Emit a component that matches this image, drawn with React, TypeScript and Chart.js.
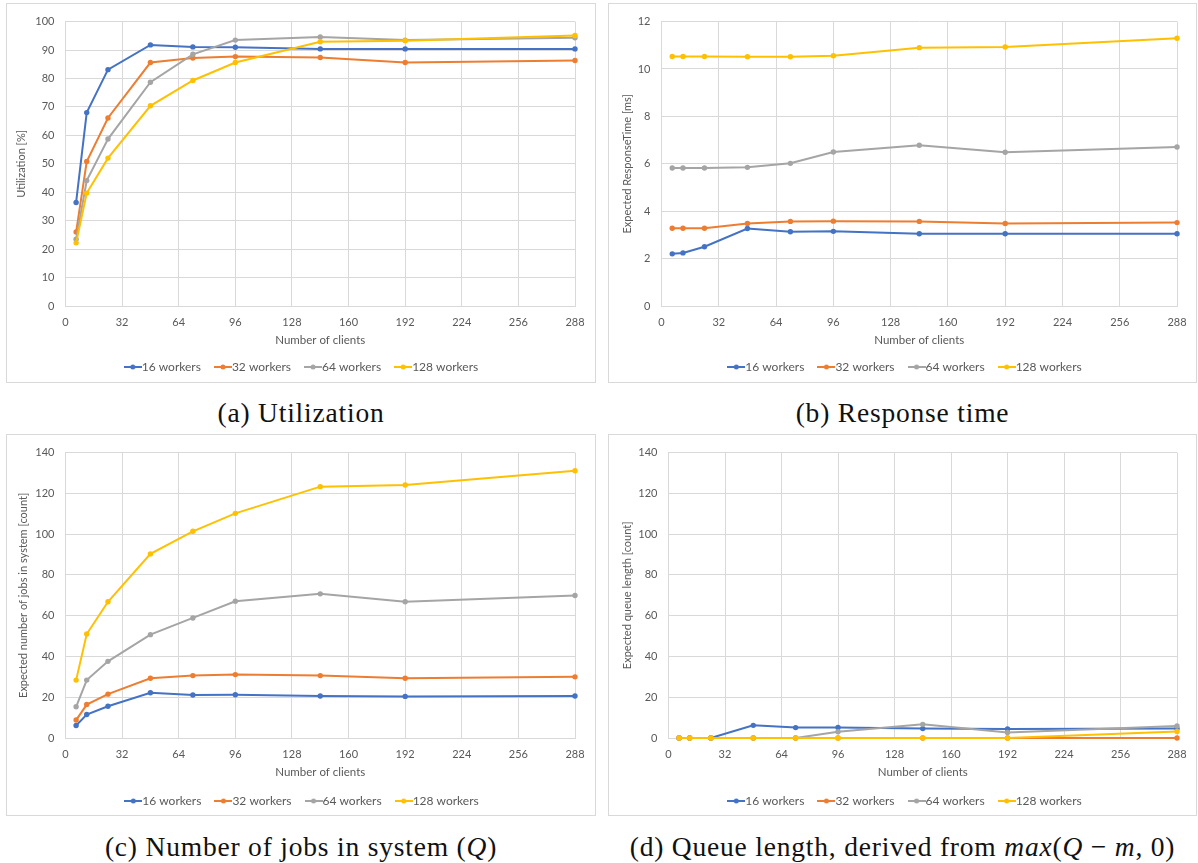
import React, { useEffect, useRef } from "react";
import { Chart, registerables } from "chart.js";

Chart.register(...registerables);

// ---------- data ----------
const clients = [6, 12, 24, 48, 72, 96, 144, 192, 288];
const seriesLabels = ["16 workers", "32 workers", "64 workers", "128 workers"];
const seriesColors = ["#4472C4", "#ED7D31", "#A5A5A5", "#FFC000"];

const utilization16 = [36.4, 68.0, 83.1, 91.8, 91.1, 91.0, 90.4, 90.4, 90.4];
const utilization32 = [26.0, 50.8, 66.1, 85.6, 87.2, 87.7, 87.4, 85.6, 86.3];
const utilization64 = [23.5, 44.1, 58.7, 78.7, 88.5, 93.5, 94.6, 93.5, 94.3];
const utilization128 = [22.2, 39.7, 52.0, 70.4, 79.3, 85.6, 92.9, 93.3, 95.1];

const response16 = [2.2, 2.24, 2.5, 3.27, 3.13, 3.15, 3.05, 3.05, 3.05];
const response32 = [3.28, 3.28, 3.28, 3.48, 3.57, 3.58, 3.57, 3.48, 3.52];
const response64 = [5.82, 5.82, 5.82, 5.85, 6.02, 6.5, 6.78, 6.49, 6.71];
const response128 = [10.53, 10.53, 10.53, 10.52, 10.52, 10.56, 10.9, 10.93, 11.3];

const jobs16 = [6.1, 11.5, 15.6, 22.2, 21.1, 21.2, 20.6, 20.4, 20.6];
const jobs32 = [8.8, 16.4, 21.5, 29.3, 30.6, 31.1, 30.6, 29.3, 30.0];
const jobs64 = [15.3, 28.4, 37.6, 50.7, 58.9, 67.1, 70.7, 66.8, 69.9];
const jobs128 = [28.4, 51.0, 66.8, 90.3, 101.4, 110.2, 123.3, 124.1, 131.1];

const queue16 = [0, 0, 0, 6.2, 5.1, 5.2, 4.6, 4.4, 4.6];
const queue32 = [0, 0, 0, 0, 0, 0, 0, 0, 0];
const queue64 = [0, 0, 0, 0, 0, 3.1, 6.7, 2.7, 5.9];
const queue128 = [0, 0, 0, 0, 0, 0, 0, 0, 3.2];

const xMin = 0;
const xMax = 288;
const xStep = 32;

// ---------- styling ----------
const FONT = "Lato";
const TEXT = "#595959";
const GRID = "#D9D9D9";
const TICK_SIZE = 11;
const XTITLE_SIZE = 11.5;
const YTITLE_SIZE = 11;
const LEGEND_SIZE = 12;
const LEGEND_PAD = 19;
const LEGEND_BOX = 6;

type PanelSpec = {
  left: number;
  top: number;
  width: number;
  height: number;
  plotLeft: number;
  plotRight: number;
  plotTop: number;
  plotBottom: number;
  tickCenter: number;
  xTitleCenter: number;
  legendCenter: number;
  legendX: number;
  yTitleCenter: number;
  yMax: number;
  yStep: number;
  yTitle: string;
  series: number[][];
  caption: React.ReactNode;
  captionCenter: number;
};

function legendMarker(color: string): HTMLCanvasElement {
  const c = document.createElement("canvas");
  c.width = 18;
  c.height = 8;
  const ctx = c.getContext("2d")!;
  ctx.strokeStyle = color;
  ctx.lineWidth = 2;
  ctx.beginPath();
  ctx.moveTo(0, 4);
  ctx.lineTo(18, 4);
  ctx.stroke();
  ctx.fillStyle = color;
  ctx.beginPath();
  ctx.arc(9, 4, 2.5, 0, Math.PI * 2);
  ctx.fill();
  return c;
}

function LinePanel({ spec }: { spec: PanelSpec }) {
  const ref = useRef<HTMLCanvasElement>(null);
  const innerW = spec.width - 2;
  const innerH = spec.height - 2;

  useEffect(() => {
    if (!ref.current) return;
    const legendH = LEGEND_SIZE + LEGEND_PAD + 10;
    const padBottom = LEGEND_SIZE / 2 + 10 - (innerH - spec.legendCenter) - 3;
    const legendTop = innerH - padBottom - legendH;
    const xH = legendTop - spec.plotBottom;
    const xTitlePadBottom = legendTop - spec.xTitleCenter - (XTITLE_SIZE * 1.2) / 2;
    const tickPad = spec.tickCenter - spec.plotBottom - (TICK_SIZE * 1.2) / 2;
    const yTitlePadTop = spec.yTitleCenter - (YTITLE_SIZE * 1.2) / 2;
    const markers = seriesColors.map(legendMarker);
    const legendShift =
      spec.legendX - (spec.left + 1) + (9 - LEGEND_BOX / 2) / 2 - spec.plotRight / 2;

    const chart = new Chart(ref.current, {
      type: "line",
      data: {
        datasets: spec.series.map((vals, i) => ({
          label: seriesLabels[i],
          data: clients.map((x, j) => ({ x, y: vals[j] })),
          borderColor: seriesColors[i],
          backgroundColor: seriesColors[i],
          borderWidth: 2,
          pointRadius: 2.7,
          pointBorderWidth: 0,
          pointHoverRadius: 2.7,
          tension: 0,
          fill: false,
          order: spec.series.length - i,
          clip: false as any,
        })),
      },
      plugins: [
        {
          id: "legendShift",
          afterLayout(ch: any) {
            if (ch.legend) {
              ch.legend.left += legendShift;
              ch.legend.right += legendShift;
            }
          },
        },
      ],
      options: {
        animation: false,
        responsive: false,
        events: [],
        layout: {
          padding: {
            left: 0,
            top: spec.plotTop,
            right: innerW - spec.plotRight,
            bottom: padBottom,
          },
        },
        plugins: {
          tooltip: { enabled: false },
          legend: {
            position: "bottom",
            labels: {
              usePointStyle: true,
              pointStyleWidth: LEGEND_BOX,
              padding: LEGEND_PAD,
              color: TEXT,
              font: { family: FONT, size: LEGEND_SIZE },
              generateLabels: (ch: any) =>
                ch.data.datasets.map((ds: any, i: number) => ({
                  text: ds.label,
                  fillStyle: ds.borderColor,
                  strokeStyle: ds.borderColor,
                  lineWidth: 0,
                  pointStyle: markers[i],
                  datasetIndex: i,
                  hidden: false,
                  fontColor: TEXT,
                })),
            },
          },
        },
        scales: {
          x: {
            type: "linear",
            min: xMin,
            max: xMax,
            ticks: {
              stepSize: xStep,
              padding: tickPad,
              color: TEXT,
              font: { family: FONT, size: TICK_SIZE },
              maxRotation: 0,
            },
            grid: { color: GRID, lineWidth: 1, drawTicks: false },
            border: { display: true, color: GRID, width: 1 },
            title: {
              display: true,
              text: "Number of clients",
              color: TEXT,
              font: { family: FONT, size: XTITLE_SIZE },
              padding: { top: 0, bottom: xTitlePadBottom },
            },
            afterFit: (s: any) => {
              s.height = xH;
            },
          },
          y: {
            type: "linear",
            min: 0,
            max: spec.yMax,
            ticks: {
              stepSize: spec.yStep,
              padding: 11,
              color: TEXT,
              font: { family: FONT, size: TICK_SIZE },
            },
            grid: { color: GRID, lineWidth: 1, drawTicks: false },
            border: { display: true, color: GRID, width: 1 },
            title: {
              display: true,
              text: spec.yTitle,
              color: TEXT,
              font: { family: FONT, size: YTITLE_SIZE },
              padding: { top: yTitlePadTop, bottom: 0 },
            },
            afterFit: (s: any) => {
              s.width = spec.plotLeft;
            },
          },
        },
      } as any,
    });
    return () => chart.destroy();
  }, []);

  return (
    <>
      <div
        style={{
          position: "absolute",
          left: spec.left,
          top: spec.top,
          width: spec.width,
          height: spec.height,
          boxSizing: "border-box",
          border: `1px solid ${GRID}`,
          background: "#fff",
        }}
      >
        <canvas
          ref={ref}
          width={innerW}
          height={innerH}
          style={{ display: "block", width: innerW, height: innerH }}
        />
      </div>
      <div
        style={{
          position: "absolute",
          left: spec.left,
          top: spec.captionCenter - 16,
          width: spec.width,
          height: 32,
          lineHeight: "32px",
          textAlign: "center",
          fontFamily: '"Liberation Serif", serif',
          fontSize: 27.5,
          letterSpacing: 0.8,
          color: "#111",
          whiteSpace: "nowrap",
        }}
      >
        {spec.caption}
      </div>
    </>
  );
}

const panels: PanelSpec[] = [
  {
    left: 6, top: 3, width: 590, height: 380,
    plotLeft: 58.5, plotRight: 568, plotTop: 10, plotBottom: 302,
    tickCenter: 318, xTitleCenter: 336, legendCenter: 364, legendX: 301, yTitleCenter: 14.5,
    yMax: 100, yStep: 10, yTitle: "Utilization [%]",
    series: [utilization16, utilization32, utilization64, utilization128],
    caption: <>(a) Utilization</>,
    captionCenter: 412.5,
  },
  {
    left: 608, top: 3, width: 589, height: 380,
    plotLeft: 52.5, plotRight: 571, plotTop: 9.5, plotBottom: 302,
    tickCenter: 318, xTitleCenter: 336, legendCenter: 364, legendX: 904.5, yTitleCenter: 18,
    yMax: 12, yStep: 2, yTitle: "Expected ResponseTime [ms]",
    series: [response16, response32, response64, response128],
    caption: <>(b) Response time</>,
    captionCenter: 412.5,
  },
  {
    left: 6, top: 434, width: 590, height: 382,
    plotLeft: 58.5, plotRight: 568, plotTop: 11, plotBottom: 303,
    tickCenter: 319, xTitleCenter: 337.5, legendCenter: 365, legendX: 301.5, yTitleCenter: 16,
    yMax: 140, yStep: 20, yTitle: "Expected number of jobs in system [count]",
    series: [jobs16, jobs32, jobs64, jobs128],
    caption: <>(c) Number of jobs in system (<i>Q</i>)</>,
    captionCenter: 847,
  },
  {
    left: 608, top: 434, width: 589, height: 382,
    plotLeft: 59.5, plotRight: 571, plotTop: 11, plotBottom: 303,
    tickCenter: 319, xTitleCenter: 337.5, legendCenter: 365, legendX: 904.5, yTitleCenter: 18,
    yMax: 140, yStep: 20, yTitle: "Expected queue length [count]",
    series: [queue16, queue32, queue64, queue128],
    caption: (
      <>
        (d) Queue length, derived from <i>max</i>(<i>Q</i> − <i>m</i>, 0)
      </>
    ),
    captionCenter: 847,
  },
];

export default function App() {
  return (
    <div
      style={{
        position: "absolute",
        left: 0,
        top: 0,
        width: 1198,
        height: 863,
        background: "#fff",
        overflow: "hidden",
      }}
    >
      {panels.map((p, i) => (
        <LinePanel key={i} spec={p} />
      ))}
    </div>
  );
}
